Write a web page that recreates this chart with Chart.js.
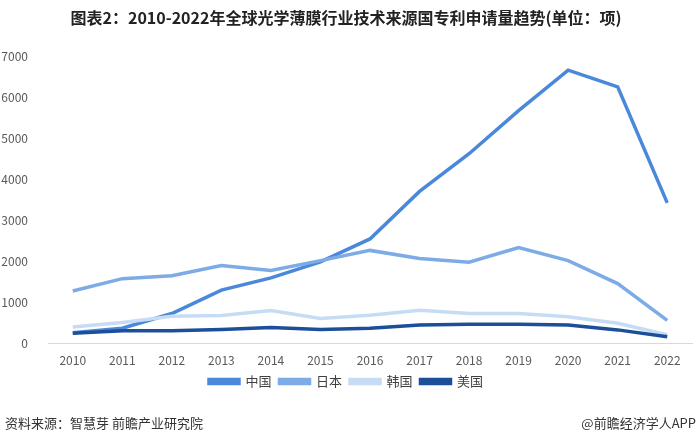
<!DOCTYPE html>
<html>
<head>
<meta charset="utf-8">
<script src="https://cdn.jsdelivr.net/npm/chart.js@4.4.0/dist/chart.umd.min.js"></script>
<style>
    html, body { margin: 0; padding: 0; background: #fff; }
    #wrap { position: relative; width: 700px; height: 441px; }
    .foot { position: absolute; top: 413px; font-family: "Noto Sans CJK SC", sans-serif; font-size: 13px; color: #333; }
</style>
</head>
<body>
<div id="wrap">
    <canvas id="patentChart" width="700" height="441"></canvas>
    <div class="foot" style="left:5px;">资料来源：智慧芽 前瞻产业研究院</div>
    <div class="foot" style="right:4px;">@前瞻经济学人APP</div>
</div>
<script>
// Patent applications by source country (unit: items)
const years = ["2010", "2011", "2012", "2013", "2014", "2015", "2016", "2017", "2018", "2019", "2020", "2021", "2022"];
const china = [250, 360, 720, 1290, 1590, 1980, 2540, 3700, 4620, 5670, 6660, 6250, 3420];
const japan = [1270, 1570, 1640, 1890, 1770, 2010, 2260, 2060, 1970, 2330, 2010, 1450, 550];
const korea = [390, 500, 650, 670, 790, 600, 680, 800, 720, 720, 640, 480, 200];
const usa = [240, 300, 300, 330, 380, 330, 360, 440, 460, 460, 440, 320, 150];

const FONT = '"Noto Sans CJK SC", "Noto Sans", sans-serif';

function lineSet(label, data, color, order) {
    return {
        label: label,
        data: data,
        borderColor: color,
        backgroundColor: color,
        borderWidth: 3.5,
        pointRadius: 0,
        tension: 0,
        fill: false,
        order: order
    };
}

new Chart(document.getElementById("patentChart"), {
    type: 'line',
    data: {
        labels: years,
        datasets: [
            lineSet('中国', china, '#4a88d9', 4),
            lineSet('日本', japan, '#7cabe6', 3),
            lineSet('韩国', korea, '#c6dcf5', 2),
            lineSet('美国', usa, '#1c4e9a', 1)
        ]
    },
    options: {
        responsive: false,
        animation: false,
        layout: { padding: { left: 0, right: 8, top: 0, bottom: 43 } },
        plugins: {
            title: {
                display: true,
                text: '图表2：2010-2022年全球光学薄膜行业技术来源国专利申请量趋势(单位：项)',
                color: '#222',
                font: { family: FONT, size: 16, weight: 'bold' },
                padding: { top: 8, bottom: 29 }
            },
            legend: {
                position: 'bottom',
                labels: {
                    color: '#404040',
                    font: { family: FONT, size: 13 },
                    boxWidth: 30,
                    boxHeight: 4,
                    padding: 8,
                    sort: (a, b) => a.datasetIndex - b.datasetIndex
                }
            },
            tooltip: { enabled: false }
        },
        scales: {
            x: {
                offset: true,
                grid: { display: false, drawTicks: false },
                border: { display: true, color: '#d9d9d9', width: 1 },
                ticks: { color: '#595959', font: { family: FONT, size: 12 }, padding: 10, maxRotation: 0 },
                afterFit: (scale) => { scale.height = 24; }
            },
            y: {
                min: 0,
                max: 7000,
                grid: { display: false },
                border: { display: false },
                ticks: {
                    stepSize: 1000,
                    color: '#595959',
                    font: { family: FONT, size: 12 },
                    padding: 12,
                    callback: (v) => String(v)
                },
                afterFit: (scale) => { scale.width = 48; }
            }
        }
    }
});
</script>
</body>
</html>
